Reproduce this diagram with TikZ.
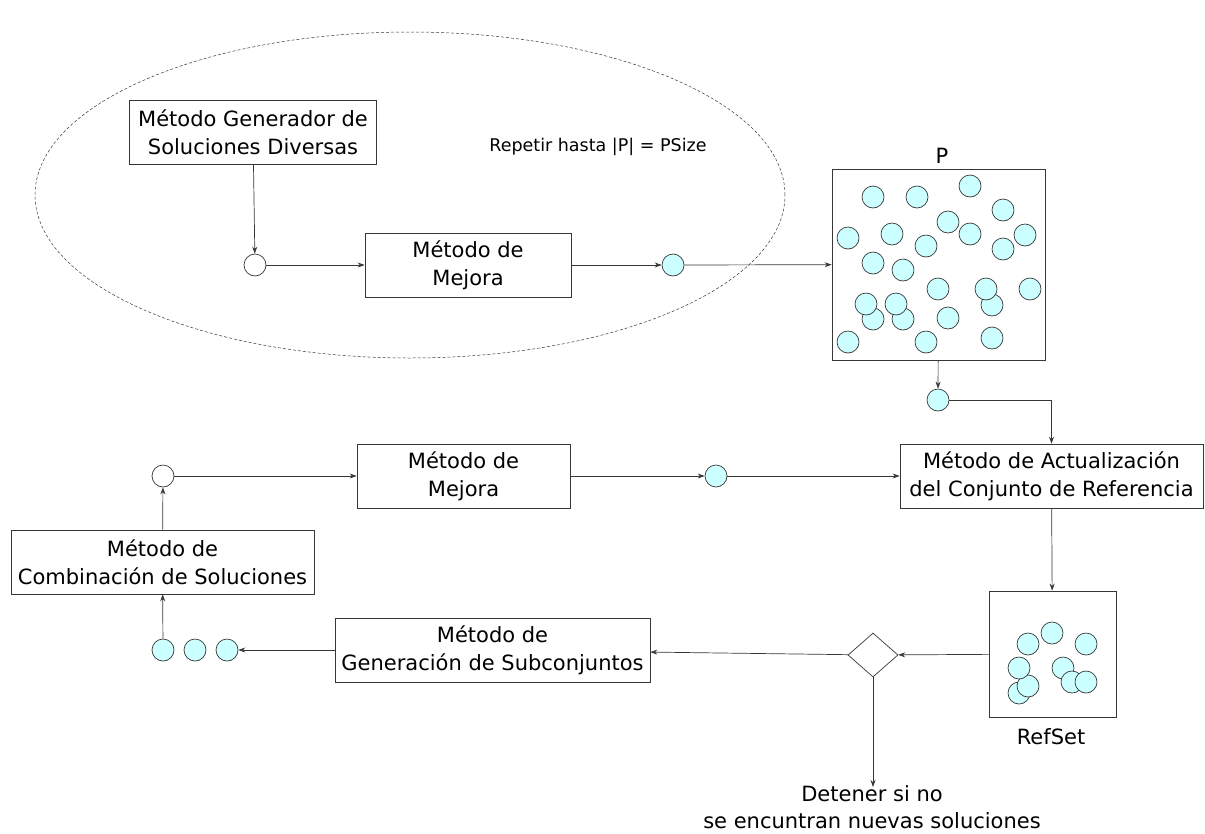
\documentclass[tikz,border=0pt]{standalone}
\usepackage{fontspec}
\setmainfont{DejaVu Sans}
\usetikzlibrary{shapes.geometric,arrows.meta}
\definecolor{solcyan}{RGB}{204,255,255}
\definecolor{trazo}{RGB}{55,55,55}
\begin{document}
\begin{tikzpicture}[>={Stealth[length=7pt,width=5pt]},x=1pt,y=-1pt,line width=0.7pt,
  flecha/.style={->,draw=trazo},
  box/.style={draw=trazo,align=center,minimum height=64pt,inner sep=2pt,font=\fontsize{21}{28}\selectfont},
  sol/.style={circle,draw=trazo,minimum size=22pt,inner sep=0pt,fill=solcyan},
  hueco/.style={circle,draw=trazo,minimum size=22pt,inner sep=0pt,fill=white},
  conj/.style={draw=trazo,inner sep=0pt},
  rotulo/.style={font=\fontsize{21}{27}\selectfont,align=center}]
  \useasboundingbox (0,0) rectangle (1205,833);
  % ciclo de construccion de P
  \draw[trazo,dashed,line width=0.5pt,dash pattern=on 3pt off 2pt] (410,195) ellipse [x radius=375pt,y radius=163pt];
  \node[font=\fontsize{17.5}{21}\selectfont] (repetir) at (598,147) {Repetir hasta |P| = PSize};
  \node[box,minimum width=247pt] (gen) at (253,132) {Método Generador de\\Soluciones Diversas};
  \node[hueco] (huecoA) at (255,265) {};
  \node[box,minimum width=206pt] (mejoraA) at (468,265) {Método de\\Mejora};
  \node[sol] (solA) at (673,265) {};
  % poblacion P
  \node[conj,minimum width=213pt,minimum height=191pt] (pobl) at (938.5,264.5) {};
  \node[rotulo] (lblP) at (942,156) {P};
  \foreach \cx/\cy in {873/197,917/197,970/186,1003/210,948/222,892/234,848/238,970/234,1025/235,
                       926/246,1003/249,873/263,903/270,938/289,1030/289,992/305,986/289,873/319,
                       903/319,866/304,896/304,948/318,848/342,926/342,992/338}
    \node[sol] at (\cx,\cy) {};
  \node[sol] (solP) at (938,400) {};
  % fase de mejora del conjunto de referencia
  \node[box,minimum width=303pt] (actual) at (1051.5,476) {Método de Actualización\\del Conjunto de Referencia};
  \node[box,minimum width=213pt] (mejoraB) at (463.5,476) {Método de\\Mejora};
  \node[hueco] (huecoB) at (163,476) {};
  \node[sol] (solB) at (716,476) {};
  \node[box,minimum width=303pt] (comb) at (162.5,562) {Método de\\Combinación de Soluciones};
  \node[sol] (subA) at (163,650) {};
  \node[sol] (subB) at (195,650) {};
  \node[sol] (subC) at (227,650) {};
  \node[box,minimum width=315pt] (subc) at (492.5,650) {Método de\\Generación de Subconjuntos};
  \node[diamond,draw=trazo,minimum width=50pt,minimum height=44pt,inner sep=0pt] (decide) at (873,655) {};
  % RefSet
  \node[conj,minimum width=127pt,minimum height=126pt] (refset) at (1052.5,654) {};
  \node[rotulo] (lblR) at (1051,737) {RefSet};
  \foreach \cx/\cy in {1028/644,1052/633,1086/644,1019/693,1028/686,1019/668,1063/668,1072/682,1086/682}
    \node[sol] at (\cx,\cy) {};
  \node[rotulo] (stop) at (872,807) {Detener si no\\se encuntran nuevas soluciones};
  \coordinate (stopfin) at (873,787);
  % conectores
  \draw[flecha] (gen) -- (huecoA);
  \draw[flecha] (huecoA) -- (mejoraA);
  \draw[flecha] (mejoraA) -- (solA);
  \draw[flecha] (solA) -- (pobl);
  \draw[flecha] (pobl) -- (solP);
  \draw[flecha] (solP) -| (actual);
  \draw[flecha] (actual) -- (refset);
  \draw[flecha] (refset) -- (decide);
  \draw[flecha] (decide) -- (subc);
  \draw[flecha] (subc) -- (subC);
  \draw[flecha] (subA) -- (comb);
  \draw[flecha] (comb) -- (huecoB);
  \draw[flecha] (huecoB) -- (mejoraB);
  \draw[flecha] (mejoraB) -- (solB);
  \draw[flecha] (solB) -- (actual);
  \draw[flecha] (decide) -- (stopfin);
\end{tikzpicture}
\end{document}
